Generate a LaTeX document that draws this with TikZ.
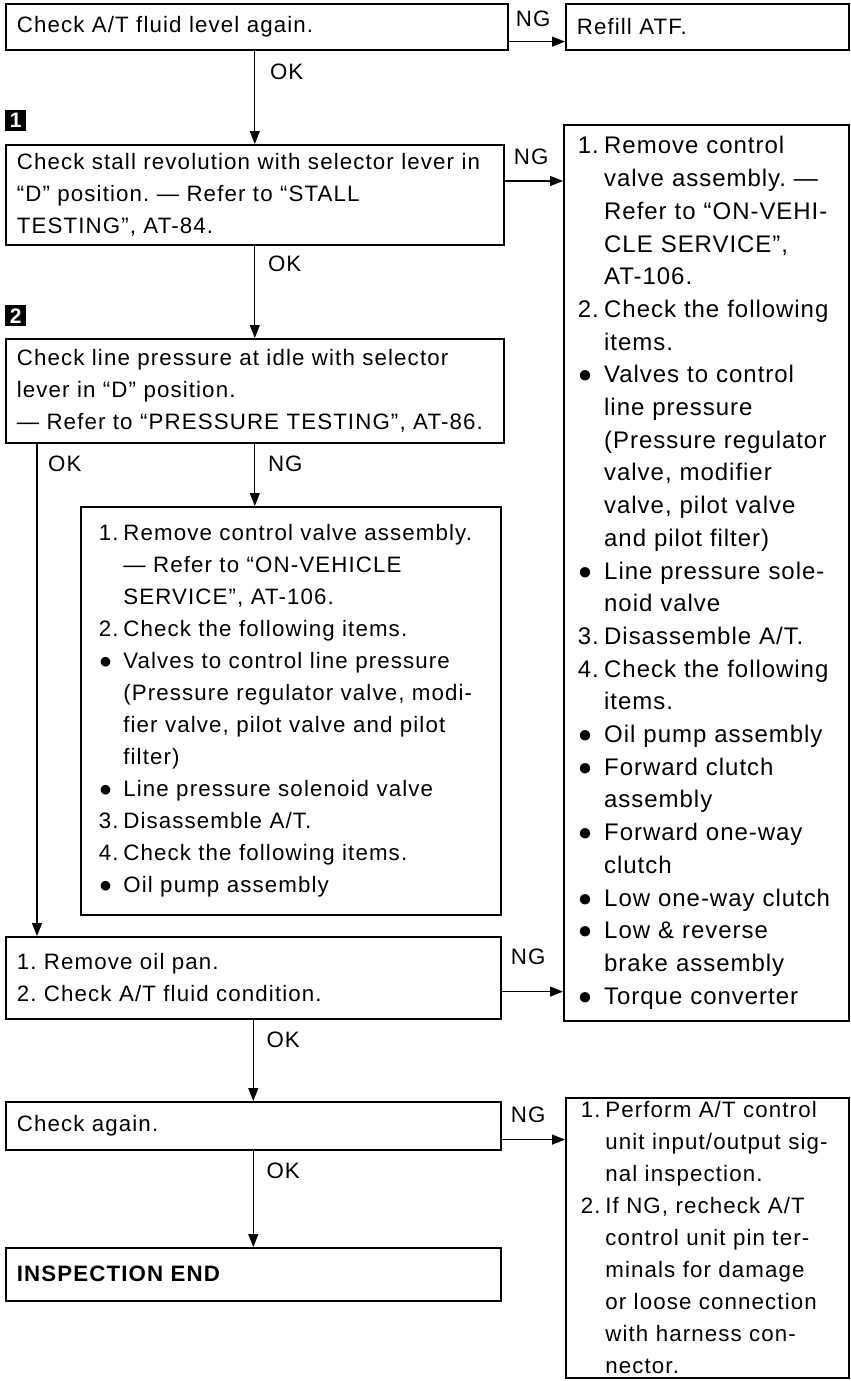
\documentclass[tikz,border=0pt]{standalone}
\usepackage{fontspec}
\setmainfont{Liberation Sans}[LetterSpace=5]
\usetikzlibrary{arrows.meta,positioning}

\newcommand\txt{\frenchspacing\fontsize{22.3}{32}\selectfont}
\newcommand\lab[1]{\makebox[1.1em][l]{#1}}
\newcommand\hng{\hspace*{1.1em}}

\tikzset{
  box/.style={draw, line width=1.6pt, anchor=north west, align=left,
    inner xsep=11pt, inner ysep=0pt, font=\txt},
  numbox/.style={fill=black, text=white, anchor=north west, inner sep=0pt,
    minimum size=21pt, font=\fontsize{21}{21}\selectfont\bfseries},
  lbl/.style={inner sep=0pt, font=\txt},
  arr/.style={line width=1.2pt, -{Triangle[length=13pt,width=10pt]}}
}

\begin{document}
\begin{tikzpicture}[x=1pt,y=-1pt]
\useasboundingbox (0,0) rectangle (851,1381);

% left column
\node[box, text width=480pt, minimum height=46pt] (chkfluid) at (5,3) {Check A/T fluid level again.};
\node[numbox] (m1) at (5,110) {1};
\node[box, text width=476pt, minimum height=100pt] (stall) at (5,144)
  {Check stall revolution with selector lever in\\
   ``D'' position. --- Refer to ``STALL\\
   TESTING'', AT-84.};
\node[numbox] (m2) at (5,305) {2};
\node[box, text width=476pt, minimum height=104pt] (linep) at (5,338)
  {Check line pressure at idle with selector\\
   lever in ``D'' position.\\
   --- Refer to ``PRESSURE TESTING'', AT-86.};
\node[box, inner xsep=18pt, text width=384pt, minimum height=408pt] (cvalve) at (80,506)
  {\lab{1.}Remove control valve assembly.\\
   \hng --- Refer to ``ON-VEHICLE\\
   \hng SERVICE'', AT-106.\\
   \lab{2.}Check the following items.\\
   \lab{●}Valves to control line pressure\\
   \hng (Pressure regulator valve, modi-\\
   \hng fier valve, pilot valve and pilot\\
   \hng filter)\\
   \lab{●}Line pressure solenoid valve\\
   \lab{3.}Disassemble A/T.\\
   \lab{4.}Check the following items.\\
   \lab{●}Oil pump assembly};
\node[box, text width=473pt, minimum height=82pt] (oilpan) at (5,936)
  {1. Remove oil pan.\\
   2. Check A/T fluid condition.};
\node[box, text width=473pt, minimum height=48pt] (again) at (5,1101) {Check again.};
\node[box, text width=473pt, minimum height=53pt] (inspend) at (5,1247) {\textbf{INSPECTION END}};

% right column
\node[box, text width=261pt, minimum height=46pt] (refill) at (565,3) {Refill ATF.};
\node[box, inner xsep=14pt, text width=257pt, minimum height=896pt,
  font=\txt\addfontfeatures{LetterSpace=4}\fontsize{24}{32.7}\selectfont] (remove) at (563,124)
  {\lab{1.}Remove control\\
   \hng valve assembly. ---\\
   \hng Refer to ``ON-VEHI-\\
   \hng CLE SERVICE'',\\
   \hng AT-106.\\
   \lab{2.}Check the following\\
   \hng items.\\
   \lab{●}Valves to control\\
   \hng line pressure\\
   \hng (Pressure regulator\\
   \hng valve, modifier\\
   \hng valve, pilot valve\\
   \hng and pilot filter)\\
   \lab{●}Line pressure sole-\\
   \hng noid valve\\
   \lab{3.}Disassemble A/T.\\
   \lab{4.}Check the following\\
   \hng items.\\
   \lab{●}Oil pump assembly\\
   \lab{●}Forward clutch\\
   \hng assembly\\
   \lab{●}Forward one-way\\
   \hng clutch\\
   \lab{●}Low one-way clutch\\
   \lab{●}Low \& reverse\\
   \hng brake assembly\\
   \lab{●}Torque converter};
\node[box, inner xsep=15pt, text width=253pt, minimum height=280pt] (unitchk) at (565,1097)
  {\lab{1.}Perform A/T control\\
   \hng unit input/output sig-\\
   \hng nal inspection.\\
   \lab{2.}If NG, recheck A/T\\
   \hng control unit pin ter-\\
   \hng minals for damage\\
   \hng or loose connection\\
   \hng with harness con-\\
   \hng nector.};

% OK connectors
\draw[arr] (stall.north |- chkfluid.south) -- (stall.north);
\node[lbl, below right=13pt and 13pt of chkfluid.south] (okA) {OK};
\draw[arr] (stall.south) -- (linep.north);
\node[lbl, below right=10pt and 13pt of stall.south] (okB) {OK};
\coordinate (cout) at ([xshift=32pt]linep.south west);
\draw[arr] (cout) -- (cout |- oilpan.north);
\node[lbl, below right=12pt and 11pt of cout] (okC) {OK};
\draw[arr] (oilpan.south) -- (oilpan.south |- again.north);
\node[lbl, below right=12pt and 13pt of oilpan.south] (okD) {OK};
\draw[arr] (again.south) -- (inspend.north);
\node[lbl, below right=12pt and 13pt of again.south] (okE) {OK};

% NG connectors
\draw[arr] (linep.south) -- (linep.south |- cvalve.north);
\node[lbl, below right=12pt and 13pt of linep.south] (ngC) {NG};
\coordinate (aout) at ([yshift=9pt]chkfluid.south east);
\draw[arr] (aout) -- (aout -| refill.west);
\node[lbl, anchor=base west] (ngA) at ([shift={(7pt,-24pt)}]chkfluid.north east) {NG};
\coordinate (bout) at ([yshift=-37pt]stall.north east);
\draw[arr] (bout) -- (bout -| remove.west);
\node[lbl, anchor=base west] (ngB) at ([shift={(9pt,-20pt)}]stall.north east) {NG};
\coordinate (fout) at ([yshift=28pt]oilpan.south east);
\draw[arr] (fout) -- (fout -| remove.west);
\node[lbl, anchor=base west] (ngF) at ([shift={(9pt,-28pt)}]oilpan.north east) {NG};
\coordinate (gout) at ([yshift=11pt]again.south east);
\draw[arr] (gout) -- (gout -| unitchk.west);
\node[lbl, anchor=base west] (ngG) at ([shift={(9pt,-21pt)}]again.north east) {NG};
\end{tikzpicture}
\end{document}
